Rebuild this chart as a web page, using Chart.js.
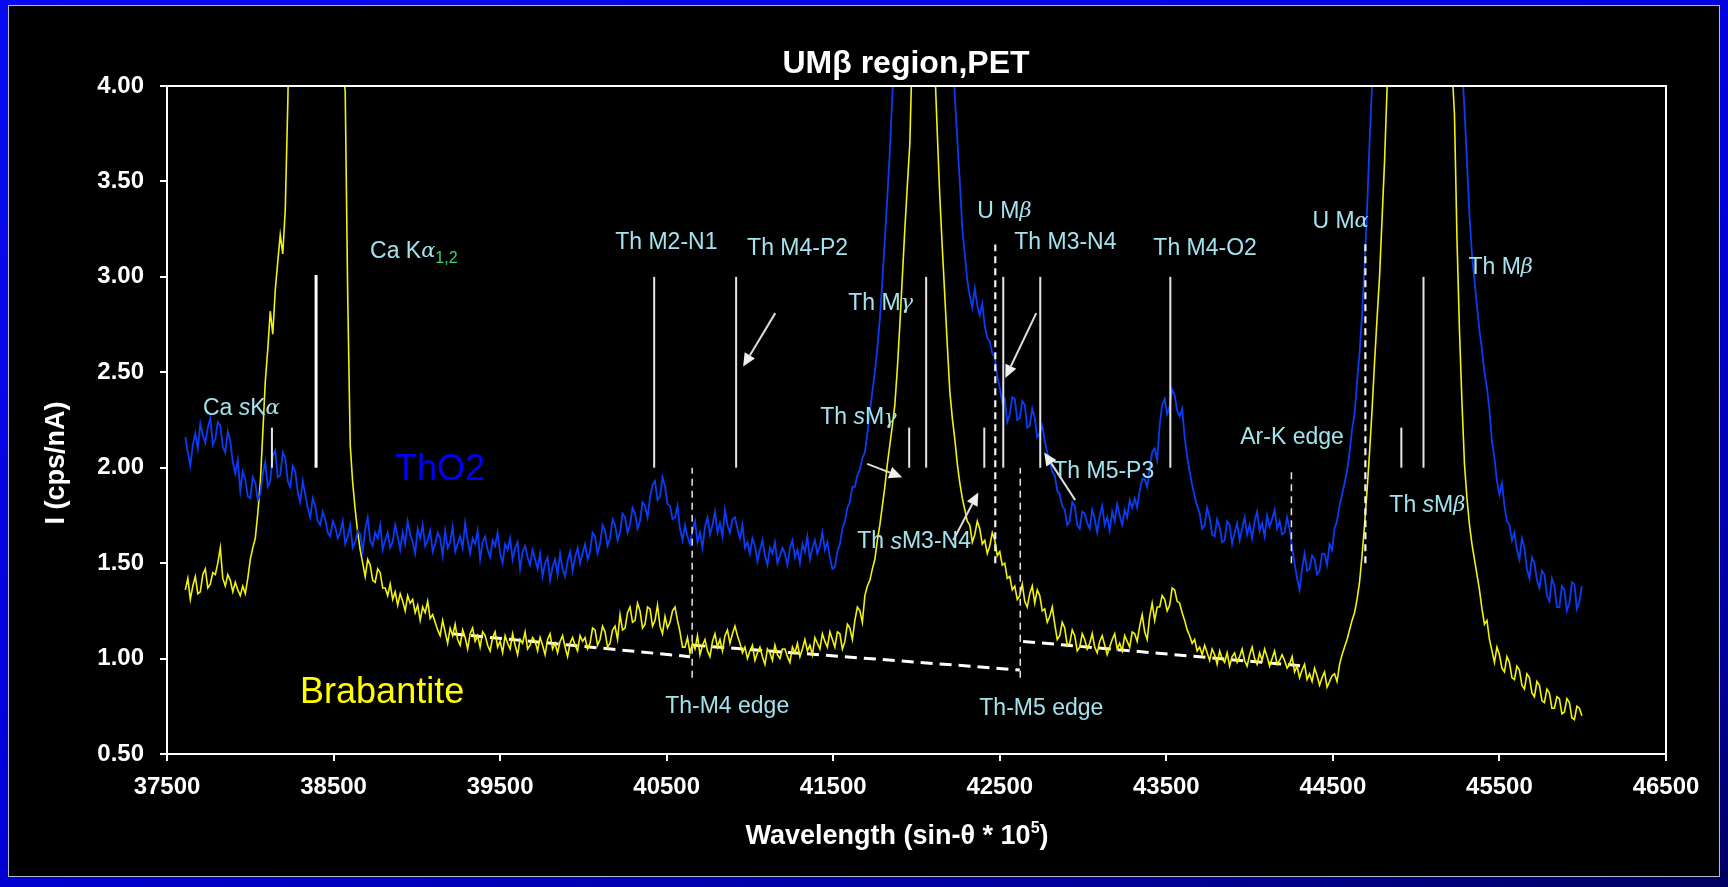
<!DOCTYPE html>
<html>
<head>
<meta charset="utf-8">
<title>UMβ region, PET</title>
<script src="https://cdn.jsdelivr.net/npm/chart.js@4.4.1/dist/chart.umd.min.js"></script>
<style>
  html, body { margin: 0; padding: 0; }
  body {
    width: 1728px; height: 887px; position: relative; overflow: hidden;
    background: linear-gradient(160deg, #0a0af2 0%, #0000d8 55%, #00009a 85%, #000060 100%);
  }
  #frame {
    position: absolute; left: 8px; top: 5px; width: 1712px; height: 872px;
    background: #000; border: 1px solid #b8bcc8; box-sizing: border-box;
  }
  #spectrum { position: absolute; left: 0; top: 0; }
</style>
</head>
<body>
<div id="frame"></div>
<canvas id="spectrum" width="1728" height="887"></canvas>
<script>
// spectrometer positions, sin-theta * 10^5 (15-step scan)
const wavelength = [
  37610,37625,37640,37655,37670,37685,37700,37715,37730,37745,37760,37775,37790,37805,37820,37835,37850,37865,37880,37895,
  37910,37925,37940,37955,37970,37985,38000,38015,38030,38045,38060,38075,38090,38105,38120,38135,38150,38165,38180,38195,
  38210,38225,38240,38255,38270,38285,38300,38315,38330,38345,38360,38375,38390,38405,38420,38435,38450,38465,38480,38495,
  38510,38525,38540,38555,38570,38585,38600,38615,38630,38645,38660,38675,38690,38705,38720,38735,38750,38765,38780,38795,
  38810,38825,38840,38855,38870,38885,38900,38915,38930,38945,38960,38975,38990,39005,39020,39035,39050,39065,39080,39095,
  39110,39125,39140,39155,39170,39185,39200,39215,39230,39245,39260,39275,39290,39305,39320,39335,39350,39365,39380,39395,
  39410,39425,39440,39455,39470,39485,39500,39515,39530,39545,39560,39575,39590,39605,39620,39635,39650,39665,39680,39695,
  39710,39725,39740,39755,39770,39785,39800,39815,39830,39845,39860,39875,39890,39905,39920,39935,39950,39965,39980,39995,
  40010,40025,40040,40055,40070,40085,40100,40115,40130,40145,40160,40175,40190,40205,40220,40235,40250,40265,40280,40295,
  40310,40325,40340,40355,40370,40385,40400,40415,40430,40445,40460,40475,40490,40505,40520,40535,40550,40565,40580,40595,
  40610,40625,40640,40655,40670,40685,40700,40715,40730,40745,40760,40775,40790,40805,40820,40835,40850,40865,40880,40895,
  40910,40925,40940,40955,40970,40985,41000,41015,41030,41045,41060,41075,41090,41105,41120,41135,41150,41165,41180,41195,
  41210,41225,41240,41255,41270,41285,41300,41315,41330,41345,41360,41375,41390,41405,41420,41435,41450,41465,41480,41495,
  41510,41525,41540,41555,41570,41585,41600,41615,41630,41645,41660,41675,41690,41705,41720,41735,41750,41765,41780,41795,
  41810,41825,41840,41855,41870,41885,41900,41915,41930,41945,41960,41975,41990,42005,42020,42035,42050,42065,42080,42095,
  42110,42125,42140,42155,42170,42185,42200,42215,42230,42245,42260,42275,42290,42305,42320,42335,42350,42365,42380,42395,
  42410,42425,42440,42455,42470,42485,42500,42515,42530,42545,42560,42575,42590,42605,42620,42635,42650,42665,42680,42695,
  42710,42725,42740,42755,42770,42785,42800,42815,42830,42845,42860,42875,42890,42905,42920,42935,42950,42965,42980,42995,
  43010,43025,43040,43055,43070,43085,43100,43115,43130,43145,43160,43175,43190,43205,43220,43235,43250,43265,43280,43295,
  43310,43325,43340,43355,43370,43385,43400,43415,43430,43445,43460,43475,43490,43505,43520,43535,43550,43565,43580,43595,
  43610,43625,43640,43655,43670,43685,43700,43715,43730,43745,43760,43775,43790,43805,43820,43835,43850,43865,43880,43895,
  43910,43925,43940,43955,43970,43985,44000,44015,44030,44045,44060,44075,44090,44105,44120,44135,44150,44165,44180,44195,
  44210,44225,44240,44255,44270,44285,44300,44315,44330,44345,44360,44375,44390,44405,44420,44435,44450,44465,44480,44495,
  44510,44525,44540,44555,44570,44585,44600,44615,44630,44645,44660,44675,44690,44705,44720,44735,44750,44765,44780,44795,
  44810,44825,44840,44855,44870,44885,44900,44915,44930,44945,44960,44975,44990,45005,45020,45035,45050,45065,45080,45095,
  45110,45125,45140,45155,45170,45185,45200,45215,45230,45245,45260,45275,45290,45305,45320,45335,45350,45365,45380,45395,
  45410,45425,45440,45455,45470,45485,45500,45515,45530,45545,45560,45575,45590,45605,45620,45635,45650,45665,45680,45695,
  45710,45725,45740,45755,45770,45785,45800,45815,45830,45845,45860,45875,45890,45905,45920,45935,45950,45965,45980,45995
];

// I (cps/nA) for the ThO2 standard
const thO2 = [
  2.16,2.08,2.01,2.12,2.18,2.10,2.23,2.17,2.13,2.21,2.26,2.12,2.15,2.24,2.22,2.11,2.08,2.19,2.14,2.03,
  1.97,2.04,1.88,1.98,1.94,1.85,1.84,1.95,1.92,1.83,1.86,1.97,2.03,1.90,1.93,2.06,2.09,1.95,1.96,2.08,
  2.05,1.93,1.90,2.01,1.98,1.87,1.82,1.93,1.86,1.79,1.74,1.84,1.80,1.72,1.70,1.77,1.73,1.66,1.64,1.72,
  1.69,1.63,1.66,1.72,1.60,1.64,1.70,1.58,1.61,1.67,1.65,1.56,1.68,1.74,1.62,1.59,1.66,1.63,1.70,1.57,
  1.62,1.66,1.58,1.61,1.70,1.64,1.57,1.66,1.60,1.72,1.65,1.61,1.55,1.68,1.63,1.70,1.59,1.62,1.67,1.56,
  1.60,1.66,1.63,1.54,1.67,1.58,1.61,1.69,1.56,1.60,1.64,1.58,1.71,1.62,1.55,1.63,1.60,1.67,1.52,1.61,
  1.64,1.57,1.53,1.62,1.59,1.66,1.55,1.50,1.60,1.57,1.63,1.52,1.58,1.61,1.47,1.56,1.59,1.53,1.49,1.57,
  1.52,1.47,1.55,1.43,1.50,1.53,1.41,1.48,1.52,1.44,1.55,1.47,1.43,1.51,1.56,1.46,1.53,1.58,1.50,1.55,
  1.60,1.52,1.56,1.66,1.64,1.55,1.60,1.70,1.67,1.59,1.63,1.73,1.70,1.62,1.66,1.76,1.74,1.66,1.70,1.79,
  1.76,1.68,1.72,1.82,1.80,1.74,1.84,1.91,1.93,1.83,1.85,1.95,1.90,1.81,1.80,1.73,1.74,1.80,1.68,1.62,
  1.70,1.64,1.60,1.67,1.72,1.61,1.66,1.58,1.69,1.74,1.65,1.70,1.77,1.66,1.71,1.64,1.78,1.70,1.66,1.73,
  1.74,1.68,1.63,1.70,1.58,1.61,1.55,1.63,1.59,1.51,1.57,1.62,1.54,1.49,1.58,1.55,1.61,1.50,1.54,1.58,
  1.55,1.49,1.58,1.62,1.53,1.57,1.50,1.60,1.56,1.64,1.52,1.58,1.62,1.55,1.59,1.66,1.57,1.61,1.53,1.47,
  1.48,1.56,1.60,1.68,1.72,1.79,1.82,1.90,1.90,1.96,1.99,2.05,2.08,2.18,2.29,2.40,2.50,2.63,2.78,2.98,
  3.20,3.42,3.66,3.95,4.30,4.80,5.40,6.10,6.80,7.50,8.20,8.90,9.50,10.0,10.3,10.4,10.5,10.3,10.0,9.60,
  9.00,8.30,7.50,6.70,6.00,5.40,4.80,4.30,3.95,3.72,3.50,3.25,3.12,2.98,2.90,2.84,2.94,2.85,2.80,2.86,
  2.74,2.68,2.66,2.60,2.58,2.48,2.42,2.34,2.36,2.24,2.28,2.37,2.36,2.25,2.26,2.35,2.33,2.21,2.22,2.31,
  2.26,2.16,2.18,2.22,2.14,2.08,2.04,1.98,1.96,1.88,1.86,1.80,1.78,1.70,1.72,1.82,1.80,1.70,1.68,1.77,
  1.76,1.71,1.68,1.78,1.73,1.66,1.75,1.80,1.70,1.74,1.67,1.77,1.72,1.81,1.75,1.70,1.78,1.74,1.83,1.79,
  1.84,1.79,1.88,1.94,1.94,1.90,2.00,2.08,2.10,2.04,2.22,2.33,2.36,2.28,2.32,2.41,2.38,2.30,2.27,2.31,
  2.16,2.06,1.98,1.91,1.85,1.80,1.76,1.68,1.70,1.79,1.74,1.65,1.64,1.73,1.69,1.61,1.62,1.72,1.70,1.60,
  1.66,1.71,1.62,1.68,1.74,1.65,1.70,1.63,1.72,1.77,1.67,1.71,1.64,1.75,1.69,1.73,1.78,1.68,1.72,1.65,
  1.66,1.74,1.68,1.58,1.50,1.42,1.36,1.47,1.55,1.46,1.47,1.54,1.52,1.44,1.46,1.55,1.55,1.49,1.60,1.57,
  1.68,1.72,1.80,1.86,1.92,1.98,2.08,2.20,2.28,2.45,2.60,2.80,3.05,3.35,3.70,4.00,4.40,4.90,5.50,6.20,
  7.00,7.80,8.50,9.20,9.80,10.2,10.5,10.7,10.8,10.9,11.0,10.9,10.8,10.7,10.5,10.3,10.0,9.70,9.30,8.90,
  8.50,8.10,7.60,7.10,6.60,6.10,5.60,5.20,4.80,4.55,4.30,4.10,3.88,3.60,3.32,3.12,2.98,2.85,2.72,2.62,
  2.50,2.42,2.30,2.14,2.05,1.93,1.86,1.92,1.80,1.72,1.70,1.62,1.66,1.57,1.52,1.63,1.58,1.47,1.42,1.53,
  1.50,1.41,1.37,1.46,1.44,1.33,1.30,1.42,1.38,1.27,1.27,1.38,1.36,1.25,1.29,1.40,1.39,1.26,1.30,1.38
];

// I (cps/nA) for the brabantite sample
const brabantite = [
  1.36,1.42,1.31,1.38,1.43,1.34,1.35,1.44,1.47,1.37,1.39,1.45,1.44,1.50,1.58,1.42,1.38,1.44,1.41,1.35,
  1.40,1.36,1.33,1.38,1.34,1.42,1.52,1.58,1.63,1.76,1.92,2.18,2.45,2.62,2.82,2.70,2.93,3.08,3.22,3.12,
  3.35,3.90,4.60,5.50,6.50,7.50,8.50,9.20,9.80,10.1,10.2,10.2,10.0,9.60,9.00,8.30,7.50,6.70,6.00,5.40,
  4.90,4.55,4.25,4.10,3.97,2.90,2.12,1.92,1.78,1.66,1.57,1.50,1.43,1.52,1.49,1.41,1.40,1.47,1.45,1.37,
  1.37,1.33,1.39,1.31,1.35,1.28,1.34,1.30,1.25,1.33,1.29,1.31,1.24,1.28,1.20,1.27,1.24,1.30,1.21,1.23,
  1.19,1.15,1.12,1.20,1.14,1.08,1.16,1.12,1.18,1.10,1.07,1.15,1.11,1.05,1.13,1.16,1.09,1.12,1.06,1.14,
  1.12,1.07,1.04,1.11,1.14,1.06,1.09,1.03,1.12,1.08,1.05,1.13,1.07,1.02,1.10,1.08,1.14,1.05,1.07,1.11,
  1.09,1.04,1.11,1.07,1.02,1.10,1.13,1.05,1.08,1.03,1.09,1.12,1.06,1.01,1.08,1.11,1.07,1.04,1.12,1.09,
  1.11,1.05,1.08,1.16,1.15,1.07,1.10,1.17,1.14,1.06,1.08,1.15,1.17,1.10,1.23,1.15,1.16,1.24,1.27,1.19,
  1.20,1.29,1.25,1.16,1.18,1.27,1.26,1.17,1.20,1.28,1.17,1.13,1.22,1.16,1.19,1.25,1.27,1.20,1.14,1.06,
  1.06,1.11,1.03,1.08,1.05,1.12,1.02,1.07,1.10,1.04,1.01,1.09,1.13,1.06,1.10,1.04,1.12,1.15,1.08,1.13,
  1.17,1.12,1.08,1.03,1.06,1.00,1.04,1.07,0.99,1.03,1.06,1.01,0.97,1.05,1.03,0.99,1.07,1.02,1.00,1.05,
  1.05,1.01,0.98,1.06,1.03,1.08,1.01,1.05,1.10,1.04,1.07,1.02,1.11,1.08,1.05,1.13,1.09,1.06,1.14,1.10,
  1.06,1.14,1.13,1.05,1.09,1.18,1.16,1.10,1.20,1.27,1.25,1.19,1.33,1.38,1.41,1.47,1.52,1.62,1.70,1.80,
  1.90,2.02,2.12,2.22,2.33,2.52,2.75,3.00,3.25,3.48,3.70,4.20,5.00,6.00,7.00,7.60,8.00,7.40,6.50,5.30,
  4.10,3.75,3.42,3.15,2.90,2.64,2.40,2.26,2.15,2.02,1.92,1.84,1.78,1.72,1.70,1.61,1.65,1.72,1.68,1.60,
  1.62,1.55,1.59,1.66,1.62,1.54,1.56,1.49,1.50,1.42,1.43,1.36,1.38,1.31,1.33,1.39,1.30,1.27,1.34,1.38,
  1.29,1.36,1.33,1.25,1.26,1.19,1.22,1.27,1.18,1.10,1.12,1.19,1.16,1.07,1.08,1.15,1.12,1.04,1.06,1.13,
  1.10,1.05,1.08,1.13,1.06,1.03,1.09,1.12,1.07,1.02,1.06,1.10,1.13,1.05,1.08,1.04,1.12,1.09,1.06,1.14,
  1.13,1.09,1.17,1.23,1.14,1.10,1.22,1.29,1.20,1.27,1.27,1.33,1.31,1.25,1.28,1.37,1.36,1.30,1.29,1.24,
  1.20,1.15,1.12,1.08,1.10,1.04,1.06,1.02,1.07,1.03,0.99,1.05,1.02,0.97,1.04,1.00,0.98,1.03,0.96,1.01,
  1.03,0.98,1.01,1.05,0.99,0.96,1.02,1.06,1.00,0.97,1.03,0.99,1.05,1.01,0.96,1.00,1.04,0.97,0.99,1.02,
  0.99,0.95,0.97,1.01,0.93,0.96,0.90,0.94,0.97,0.89,0.92,0.88,0.95,0.91,0.86,0.90,0.93,0.85,0.88,0.91,
  0.92,0.88,0.97,1.02,1.06,1.10,1.15,1.20,1.24,1.31,1.40,1.54,1.70,1.88,2.08,2.30,2.55,2.78,3.00,3.30,
  3.60,3.98,4.40,5.10,6.00,7.00,8.00,8.80,9.50,10.0,10.5,10.8,11.0,10.9,10.8,10.4,10.0,9.50,9.00,8.30,
  7.50,6.80,6.20,5.70,5.20,4.80,4.40,4.10,3.85,3.20,2.72,2.34,2.02,1.84,1.70,1.60,1.52,1.44,1.36,1.26,
  1.18,1.20,1.10,1.04,0.98,1.06,1.02,0.95,0.93,1.01,0.98,0.90,0.89,0.96,0.94,0.86,0.84,0.92,0.90,0.82,
  0.80,0.88,0.86,0.78,0.77,0.84,0.82,0.74,0.74,0.80,0.79,0.71,0.72,0.79,0.77,0.69,0.68,0.75,0.74,0.70
];

// background under brabantite, broken at the Th-M4 and Th-M5 edges
const bgBelowM4 = { x: [39212, 40640], y: [1.13, 1.01] };
const bgM4toM5  = { x: [40660, 42620], y: [1.07, 0.94] };
const bgAboveM5 = { x: [42640, 44340], y: [1.09, 0.96] };

const xTicks = [37500, 38500, 39500, 40500, 41500, 42500, 43500, 44500, 45500, 46500];
const yTicks = [0.5, 1.0, 1.5, 2.0, 2.5, 3.0, 3.5, 4.0];

// line positions: [wavelength, from I, to I]
const lineMarks = [
  [38130, 2.00, 2.21], [40425, 2.00, 3.00], [40917, 2.00, 3.00],
  [41956, 2.00, 2.21], [42058, 2.00, 3.00], [42407, 2.00, 2.21],
  [42521, 2.00, 3.00], [42743, 2.00, 3.00], [43524, 2.00, 3.00],
  [44911, 2.00, 2.21], [45044, 2.00, 3.00]
];
const caKaMark = [38395, 2.00, 3.01];
const edgeMarks = [
  [40653, 0.90, 2.00], [42623, 0.90, 2.00], [44251, 1.50, 2.00]
];
const uMarks = [[42473, 1.50, 3.17], [44695, 1.50, 3.18]];

// arrows: [from x, from I, to x, to I]
const arrows = [
  [41152, 2.81, 40959, 2.53],
  [41704, 2.02, 41914, 1.95],
  [42221, 1.62, 42371, 1.87],
  [42719, 2.81, 42533, 2.47],
  [42953, 1.83, 42767, 2.08]
];

// line labels: anchor (left, middle) in data units, then text runs
// run styles: '' plain, 'i' italic, 'g' greek, 'sub' subscript
const lineLabels = [
  [37716, 2.31, [['Ca ', ''], ['s', 'i'], ['K', ''], ['α', 'g']]],
  [38719, 3.13, [['Ca K', ''], ['α', 'g'], ['1,2', 'sub']]],
  [40191, 3.18, [['Th M2-N1', '']]],
  [40983, 3.15, [['Th M4-P2', '']]],
  [41590, 2.86, [['Th M', ''], ['γ', 'g']]],
  [42365, 3.34, [['U M', ''], ['β', 'g']]],
  [42587, 3.18, [['Th M3-N4', '']]],
  [43422, 3.15, [['Th M4-O2', '']]],
  [41422, 2.26, [['Th ', ''], ['s', 'i'], ['M', ''], ['γ', 'g']]],
  [41644, 1.61, [['Th ', ''], ['s', 'i'], ['M3-N4', '']]],
  [42821, 1.98, [['Th M5-P3', '']]],
  [43944, 2.16, [['Ar-K edge', '']]],
  [44377, 3.29, [['U M', ''], ['α', 'g']]],
  [45314, 3.05, [['Th M', ''], ['β', 'g']]],
  [44839, 1.80, [['Th ', ''], ['s', 'i'], ['M', ''], ['β', 'g']]],
  [40491, 0.75, [['Th-M4 edge', '']]],
  [42377, 0.74, [['Th-M5 edge', '']]]
];

const SANS = '"Liberation Sans", Arial, sans-serif';
const labelColor = '#a4e2ee';

function series(xs, ys) {
  return xs.map((x, i) => ({ x: x, y: ys[i] }));
}

function bgLine(seg) {
  return {
    data: series(seg.x, seg.y),
    borderColor: '#ffffff', borderWidth: 3, borderDash: [12, 7],
    pointRadius: 0, tension: 0
  };
}

function drawRuns(ctx, x, y, runs, size) {
  let cx = x;
  ctx.textBaseline = 'middle';
  ctx.textAlign = 'left';
  for (const [t, st] of runs) {
    let font = size + 'px ' + SANS, dy = 0, col = labelColor;
    if (st === 'i') font = 'italic ' + size + 'px ' + SANS;
    if (st === 'g') font = 'italic ' + Math.round(size * 0.9) + 'px "DejaVu Serif", serif';
    if (st === 'sub') { font = Math.round(size * 0.7) + 'px ' + SANS; dy = size * 0.3; col = '#3fd27a'; }
    ctx.font = font;
    ctx.fillStyle = col;
    ctx.fillText(t, cx, y + dy);
    cx += ctx.measureText(t).width;
  }
}

function drawArrow(ctx, x0, y0, x1, y1) {
  const a = Math.atan2(y1 - y0, x1 - x0);
  const len = 13, half = 6;
  const bx = x1 - len * Math.cos(a), by = y1 - len * Math.sin(a);
  ctx.beginPath();
  ctx.moveTo(x0, y0);
  ctx.lineTo(bx, by);
  ctx.stroke();
  ctx.beginPath();
  ctx.moveTo(x1, y1);
  ctx.lineTo(bx + half * Math.sin(a), by - half * Math.cos(a));
  ctx.lineTo(bx - half * Math.sin(a), by + half * Math.cos(a));
  ctx.closePath();
  ctx.fill();
}

const decor = {
  id: 'decor',
  afterDatasetsDraw(chart) {
    const ctx = chart.ctx;
    const xs = chart.scales.x, ys = chart.scales.y;
    const px = v => xs.getPixelForValue(v);
    const py = v => ys.getPixelForValue(v);
    const area = chart.chartArea;
    ctx.save();

    // frame around the plot
    ctx.strokeStyle = '#ffffff';
    ctx.lineWidth = 2;
    ctx.strokeRect(area.left, area.top, area.right - area.left, area.bottom - area.top);

    ctx.strokeStyle = '#e6e6e6';
    ctx.lineWidth = 2;
    for (const [x, a, b] of lineMarks) {
      ctx.beginPath();
      ctx.moveTo(px(x), py(a));
      ctx.lineTo(px(x), py(b));
      ctx.stroke();
    }
    ctx.strokeStyle = '#ffffff';
    ctx.lineWidth = 3;
    ctx.beginPath();
    ctx.moveTo(px(caKaMark[0]), py(caKaMark[1]));
    ctx.lineTo(px(caKaMark[0]), py(caKaMark[2]));
    ctx.stroke();

    ctx.setLineDash([7, 5]);
    ctx.lineWidth = 1.5;
    ctx.strokeStyle = '#e6e6e6';
    for (const [x, a, b] of edgeMarks) {
      ctx.beginPath();
      ctx.moveTo(px(x), py(a));
      ctx.lineTo(px(x), py(b));
      ctx.stroke();
    }
    ctx.lineWidth = 2.2;
    ctx.strokeStyle = '#f4f4f4';
    for (const [x, a, b] of uMarks) {
      ctx.beginPath();
      ctx.moveTo(px(x), py(a));
      ctx.lineTo(px(x), py(b));
      ctx.stroke();
    }
    ctx.setLineDash([]);

    ctx.strokeStyle = '#dcdcdc';
    ctx.fillStyle = '#f0f0f0';
    ctx.lineWidth = 2;
    for (const [x0, y0, x1, y1] of arrows) {
      drawArrow(ctx, px(x0), py(y0), px(x1), py(y1));
    }

    for (const [x, y, runs] of lineLabels) {
      drawRuns(ctx, px(x), py(y), runs, 23);
    }

    // series names
    ctx.font = '36px ' + SANS;
    ctx.fillStyle = '#0000ff';
    ctx.fillText('ThO2', px(38869), py(1.99));
    ctx.fillStyle = '#ffff00';
    ctx.fillText('Brabantite', px(38299), py(0.82));

    // titles
    ctx.fillStyle = '#ffffff';
    ctx.textAlign = 'center';
    ctx.font = 'bold 32px ' + SANS;
    ctx.fillText('UMβ region,PET', 906, 64);

    ctx.font = 'bold 27px ' + SANS;
    const main = 'Wavelength (sin-θ * 10', tail = ')';
    const wMain = ctx.measureText(main).width;
    const wTail = ctx.measureText(tail).width;
    ctx.font = 'bold 16px ' + SANS;
    const wSup = ctx.measureText('5').width;
    let tx = 897 - (wMain + wSup + wTail) / 2;
    ctx.textAlign = 'left';
    ctx.font = 'bold 27px ' + SANS;
    ctx.fillText(main, tx, 837);
    ctx.font = 'bold 16px ' + SANS;
    ctx.fillText('5', tx + wMain, 829);
    ctx.font = 'bold 27px ' + SANS;
    ctx.fillText(tail, tx + wMain + wSup, 837);

    ctx.translate(57, 463);
    ctx.rotate(-Math.PI / 2);
    ctx.textAlign = 'center';
    ctx.fillText('I (cps/nA)', 0, 0);
    ctx.restore();
  }
};

new Chart(document.getElementById('spectrum'), {
  type: 'line',
  data: {
    datasets: [
      { data: series(wavelength, thO2), borderColor: '#0a3cf6', borderWidth: 1.8, pointRadius: 0, tension: 0 },
      { data: series(wavelength, brabantite), borderColor: '#f2f20c', borderWidth: 1.6, pointRadius: 0, tension: 0 },
      bgLine(bgBelowM4), bgLine(bgM4toM5), bgLine(bgAboveM5)
    ]
  },
  options: {
    responsive: false,
    animation: false,
    layout: { padding: { top: 86, right: 62, left: 0, bottom: 0 } },
    plugins: { legend: { display: false }, tooltip: { enabled: false }, title: { display: false } },
    scales: {
      x: {
        type: 'linear', min: 37500, max: 46500,
        afterBuildTicks: s => { s.ticks = xTicks.map(v => ({ value: v })); },
        afterFit: s => { s.height = 133; },
        ticks: {
          color: '#ffffff', font: { family: SANS, size: 24, weight: 'bold' },
          padding: 12, maxRotation: 0, autoSkip: false, callback: v => String(v)
        },
        grid: { drawOnChartArea: false, drawTicks: true, tickLength: 7, color: '#ffffff', lineWidth: 2 },
        border: { display: true, color: '#ffffff', width: 2 }
      },
      y: {
        type: 'linear', min: 0.5, max: 4.0,
        afterBuildTicks: s => { s.ticks = yTicks.map(v => ({ value: v })); },
        afterFit: s => { s.width = 167; },
        ticks: {
          color: '#ffffff', font: { family: SANS, size: 24, weight: 'bold' },
          padding: 16, callback: v => v.toFixed(2)
        },
        grid: { drawOnChartArea: false, drawTicks: true, tickLength: 7, color: '#ffffff', lineWidth: 2 },
        border: { display: true, color: '#ffffff', width: 2 }
      }
    }
  },
  plugins: [decor]
});
</script>
</body>
</html>
